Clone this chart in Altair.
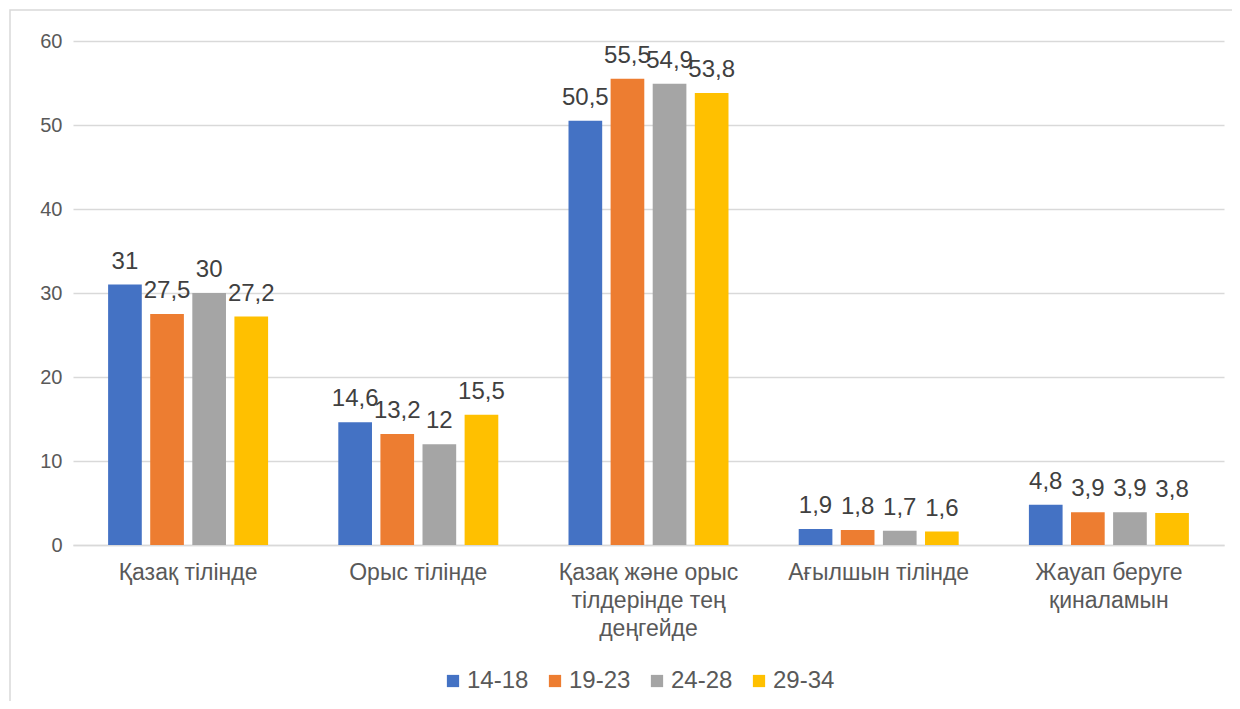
import altair as alt
import pandas as pd

categories = ["Қазақ тілінде", "Орыс тілінде", "Қазақ және орыс\nтілдерінде тең\nдеңгейде",
              "Ағылшын тілінде", "Жауап беруге\nқиналамын"]
groups = ["14-18", "19-23", "24-28", "29-34"]
v_14_18 = [31, 14.6, 50.5, 1.9, 4.8]
v_19_23 = [27.5, 13.2, 55.5, 1.8, 3.9]
v_24_28 = [30, 12, 54.9, 1.7, 3.9]
v_29_34 = [27.2, 15.5, 53.8, 1.6, 3.8]
colors = ["#4472C4", "#ED7D31", "#A5A5A5", "#FFC000"]

rows = []
for g, vals in zip(groups, [v_14_18, v_19_23, v_24_28, v_29_34]):
    for c, v in zip(categories, vals):
        lab = (f"{v:g}").replace(".", ",")
        rows.append({"cat": c, "group": g, "value": v, "label": lab})
df = pd.DataFrame(rows)

FONT = "Liberation Sans"
GREY = "#595959"

x = alt.X("cat:N", sort=categories, title=None,
          scale=alt.Scale(paddingInner=0.305, paddingOuter=0.1525),
          axis=alt.Axis(labelExpr="split(datum.label, '\\n')", labelAngle=0,
                        labelFontSize=23, labelColor=GREY, labelFont=FONT, labelLimit=400,
                        labelPadding=16, labelLineHeight=28, ticks=False,
                        domainColor="#d9d9d9", domainWidth=1.5, labelBaseline="top"))
xo = alt.XOffset("group:N", sort=groups, scale=alt.Scale(paddingInner=0.2, paddingOuter=0))

bars = alt.Chart(df).mark_bar().encode(
    x=x, xOffset=xo,
    y=alt.Y("value:Q", title=None,
            scale=alt.Scale(domain=[0, 60]),
            axis=alt.Axis(values=[0, 10, 20, 30, 40, 50, 60], domain=False, ticks=False,
                          labelFontSize=20, labelColor=GREY, labelFont=FONT, labelPadding=11,
                          gridColor="#d9d9d9", gridWidth=1.5)),
    color=alt.Color("group:N", sort=groups, title=None,
                    scale=alt.Scale(domain=groups, range=colors),
                    legend=alt.Legend(orient="none", legendX=368, legendY=628, direction="horizontal",
                                      symbolType="square", symbolSize=150, symbolStrokeWidth=0,
                                      labelFontSize=24, labelColor=GREY, labelFont=FONT,
                                      labelOffset=2)),
)

texts = alt.Chart(df).mark_text(baseline="bottom", dy=-11, fontSize=24, color="#404040", font=FONT).encode(
    x=x, xOffset=xo, y="value:Q", text="label:N"
)

border = alt.Chart(pd.DataFrame({"a": [0]})).mark_rect(fill=None, stroke="#d9d9d9", strokeWidth=1.5).encode(
    x=alt.value(-63), x2=alt.value(1200), y=alt.value(-31), y2=alt.value(700)
)

chart = alt.layer(border, bars, texts).properties(
    width=1151, height=504,
    autosize=alt.AutoSizeParams(type="none"),
    padding={"left": 65, "top": 33, "right": 8, "bottom": 156},
).configure_view(stroke=None).configure_legend(columnPadding=14)

chart.save("out.html", embed_options={"renderer": "svg", "actions": False})
